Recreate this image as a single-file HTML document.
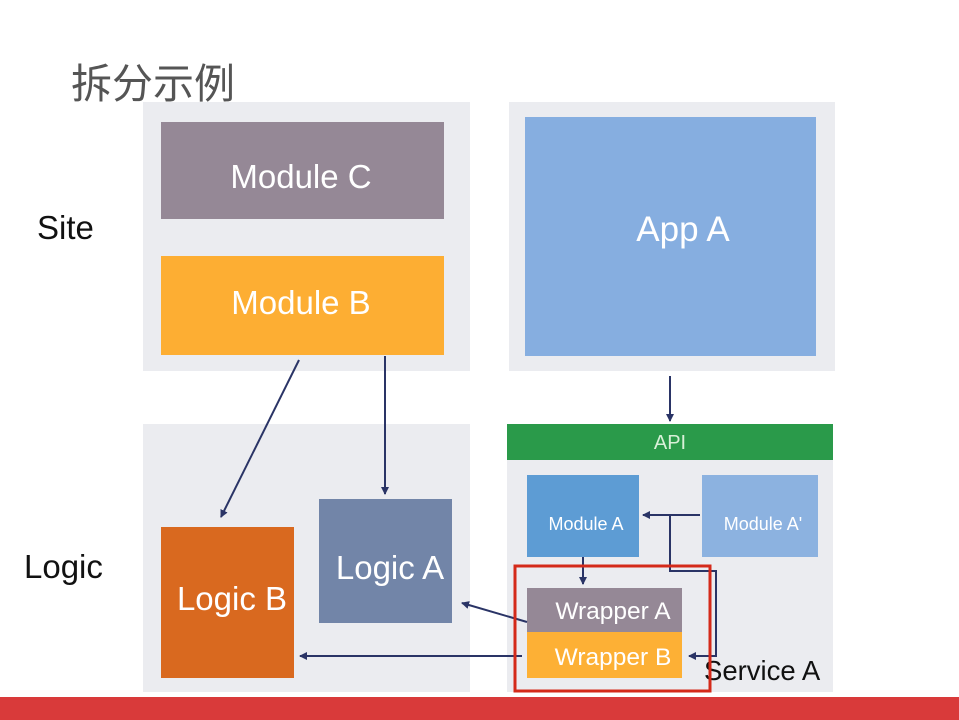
<!DOCTYPE html>
<html><head><meta charset="utf-8"><style>
html,body{margin:0;padding:0;background:#fff;}
svg{display:block;}
text{font-family:"Liberation Sans","Noto Sans CJK SC",sans-serif;}
</style></head><body>
<svg width="959" height="720" viewBox="0 0 959 720" xmlns="http://www.w3.org/2000/svg">
<defs>
<marker id="ah" markerWidth="8" markerHeight="8" refX="7" refY="4" orient="auto" markerUnits="userSpaceOnUse">
<path d="M0,0 L8,4 L0,8 Z" fill="#2a3466"/>
</marker>
</defs>
<rect width="959" height="720" fill="#fff"/>
<text x="71" y="98" font-size="41" fill="#555">拆分示例</text>
<text x="37" y="239" font-size="33" fill="#111">Site</text>
<text x="24" y="578" font-size="33" fill="#111">Logic</text>

<rect x="143" y="102" width="327" height="269" fill="#ebecf0"/>
<rect x="143" y="424" width="327" height="268" fill="#ebecf0"/>
<rect x="509" y="102" width="326" height="269" fill="#ebecf0"/>
<rect x="507" y="460" width="326" height="232" fill="#ebecf0"/>
<rect x="507" y="424" width="326" height="36" fill="#2a9a4a"/>
<text x="670" y="449" font-size="20" fill="#d8f0d8" text-anchor="middle">API</text>

<rect x="161" y="122" width="283" height="97" fill="#958896"/>
<text x="301" y="188" font-size="33" fill="#fff" text-anchor="middle">Module C</text>
<rect x="161" y="256" width="283" height="99" fill="#fdae33"/>
<text x="301" y="314" font-size="33" fill="#fff" text-anchor="middle">Module B</text>

<rect x="525" y="117" width="291" height="239" fill="#86aee0"/>
<text x="683" y="241" font-size="35" fill="#fff" text-anchor="middle">App A</text>

<rect x="161" y="527" width="133" height="151" fill="#d9691f"/>
<text x="232" y="610" font-size="33" fill="#fff" text-anchor="middle">Logic B</text>
<rect x="319" y="499" width="133" height="124" fill="#7285a8"/>
<text x="390" y="579" font-size="33" fill="#fff" text-anchor="middle">Logic A</text>

<rect x="527" y="475" width="112" height="82" fill="#5d9cd4"/>
<text x="586" y="530" font-size="18" fill="#fff" text-anchor="middle">Module A</text>
<rect x="702" y="475" width="116" height="82" fill="#8cb2e0"/>
<text x="763" y="530" font-size="18" fill="#fff" text-anchor="middle">Module A'</text>

<rect x="527" y="588" width="155" height="44" fill="#958896"/>
<text x="613" y="619" font-size="24.5" fill="#fff" text-anchor="middle">Wrapper A</text>
<rect x="527" y="632" width="155" height="46" fill="#fdb035"/>
<text x="613" y="665" font-size="24.5" fill="#fff" text-anchor="middle">Wrapper B</text>

<text x="704" y="680" font-size="27.5" fill="#111">Service A</text>

<g stroke="#2a3466" stroke-width="2" fill="none">
<line x1="299" y1="360" x2="221" y2="517" marker-end="url(#ah)"/>
<line x1="385" y1="356" x2="385" y2="494" marker-end="url(#ah)"/>
<line x1="670" y1="376" x2="670" y2="421" marker-end="url(#ah)"/>
<line x1="700" y1="515" x2="643" y2="515" marker-end="url(#ah)"/>
<polyline points="670,515 670,571 716,571 716,656 689,656" marker-end="url(#ah)"/>
<line x1="583" y1="557" x2="583" y2="584" marker-end="url(#ah)"/>
<line x1="527" y1="622" x2="462" y2="603" marker-end="url(#ah)"/>
<line x1="522" y1="656" x2="300" y2="656" marker-end="url(#ah)"/>
</g>

<rect x="515" y="566" width="195" height="125" fill="none" stroke="#d42a1a" stroke-width="3"/>

<rect x="0" y="697" width="959" height="23" fill="#d93a3a"/>
</svg>
</body></html>
